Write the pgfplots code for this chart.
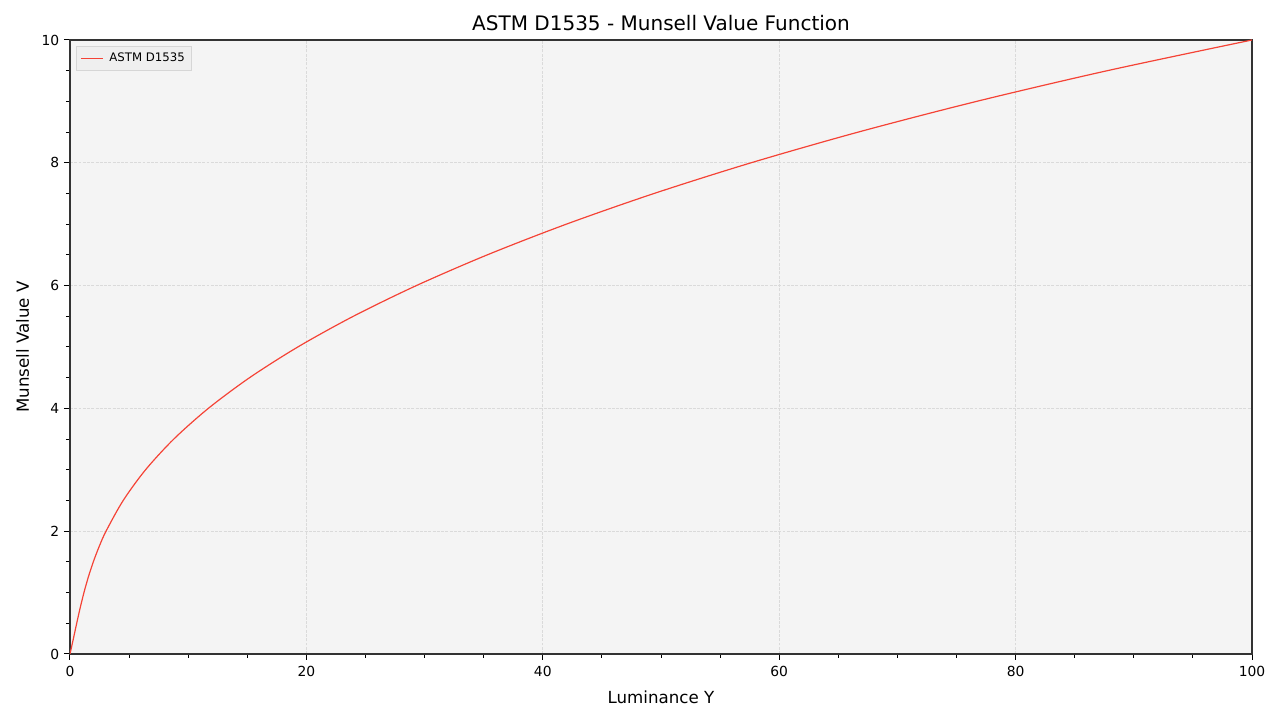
\documentclass[border=0pt]{standalone}
\usepackage{pgfplots}
\pgfplotsset{compat=1.18}
\usepackage{fontspec}
\setmainfont{DejaVu Sans}

\definecolor{bgpanel}{HTML}{F4F4F4}
\definecolor{gridc}{HTML}{DADADA}
\definecolor{curve}{HTML}{F44336}
\definecolor{legbg}{HTML}{EFEFEF}
\definecolor{legedge}{HTML}{D6D6D6}
\definecolor{axc}{HTML}{333333}

\begin{document}
\begin{tikzpicture}[x=1pt,y=1pt]
  % canvas 1280x720 px at 0.75pt per px
  \path[fill=white] (0,0) rectangle (960,540);
  \begin{axis}[
      at={(52.5pt,49.5pt)}, anchor=south west,
      scale only axis, width=886.5pt, height=460.5pt,
      xmin=0, xmax=100, ymin=0, ymax=10,
      axis background/.style={fill=bgpanel},
      axis line style={axc, line width=0.8pt},
      xtick={0,20,...,100}, ytick={0,2,...,10},
      minor x tick num=3, minor y tick num=3,
      tick align=outside, tick pos=left,
      major tick length=4.5pt, minor tick length=3pt,
      every tick/.style={black, line width=0.75pt},
      grid=major,
      major grid style={gridc, dash pattern=on 2.2pt off 1pt, line width=0.5pt},
      ticklabel style={font=\fontsize{10.4}{12}\selectfont},
      xticklabel style={yshift=-1.5pt},
      /pgf/number format/assume math mode=true,
      xlabel={Luminance Y}, ylabel={Munsell Value V},
      xlabel style={font=\fontsize{12.5}{14}\selectfont, yshift=-3pt},
      ylabel style={font=\fontsize{12.5}{14}\selectfont, yshift=2.5pt},
      title={ASTM D1535 - Munsell Value Function},
      title style={font=\fontsize{15}{17}\selectfont, yshift=-3pt},
      legend style={at={(axis description cs:0.005,0.99)}, anchor=north west,
        fill=legbg, draw=legedge, font=\fontsize{8.8}{11}\selectfont,
        inner xsep=3pt, inner ysep=3pt, row sep=0pt},
      legend image code/.code={\draw[#1] (0pt,0pt) -- (17pt,0pt);},
      legend cell align=left,
    ]
    \addplot[curve, line width=0.9pt, smooth] coordinates {
      (0,0) (0.2873,0.25) (0.5673,0.5) (0.8590,0.75) (1.1799,1)
      (1.5458,1.25) (1.9708,1.5) (2.4677,1.75) (3.0481,2) (4.4988,2.5)
      (6.3912,3) (8.7783,3.5) (11.7008,4) (15.1902,4.5) (19.2718,5)
      (23.9681,5.5) (29.3012,6) (35.2964,6.5) (41.9854,7) (49.4088,7.5)
      (57.6196,8) (66.6863,8.5) (76.6956,9) (87.7561,9.5) (100,10)
    };
    \addlegendentry{\hspace{2pt}ASTM D1535}
  \end{axis}
\end{tikzpicture}
\end{document}
